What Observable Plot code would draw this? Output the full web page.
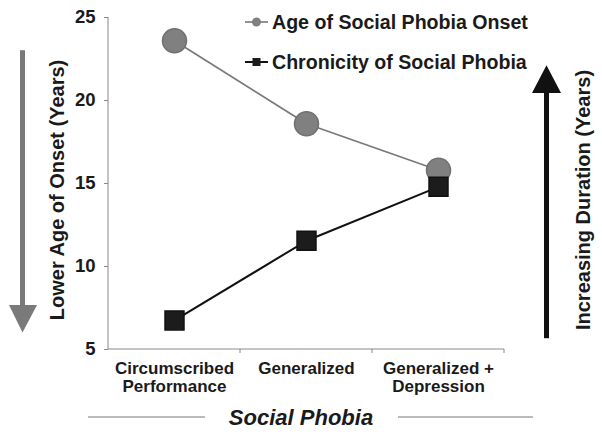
<!DOCTYPE html>
<html><head><meta charset="utf-8">
<script src="https://cdn.jsdelivr.net/npm/d3@7"></script>
<script src="https://cdn.jsdelivr.net/npm/@observablehq/plot@0.6"></script>
<style>body{margin:0;background:#fff} #chart svg{display:block}</style>
</head><body><div id="chart"></div>
<script>
const categories = ["Circumscribed Performance", "Generalized", "Generalized + Depression"];
const tickLabels = ["Circumscribed\nPerformance", "Generalized", "Generalized +\nDepression"];
const onsetAge = [23.6, 18.6, 15.8];
const chronicity = [6.75, 11.55, 14.8];
const yTicks = [5, 10, 15, 20, 25];
const seriesNames = ["Age of Social Phobia Onset", "Chronicity of Social Phobia"];
const leftLabel = "Lower Age of Onset (Years)";
const rightLabel = "Increasing Duration (Years)";
const xTitle = "Social Phobia";

const rows = categories.map((c, i) => ({category: c, onset: onsetAge[i], chron: chronicity[i]}));
const font = "'Liberation Sans', Arial, Helvetica, sans-serif";
const ink = "#1a1a1a";

const chart = Plot.plot({
  width: 602, height: 434,
  marginLeft: 108, marginRight: 98, marginTop: 17, marginBottom: 85,
  style: {fontFamily: font, background: "#fff", color: ink},
  x: {type: "band", domain: categories, padding: 0},
  y: {domain: [5, 25]},
  marks: [
    Plot.axisY({ticks: yTicks, tickSize: 4, tickPadding: 9, fontSize: 18.5, fontWeight: "bold", stroke: "#888", fill: ink, label: null}),
    Plot.axisX({tickSize: 0, tickPadding: 11, fontSize: 17, fontWeight: "bold", fill: ink, lineHeight: 1.1,
      tickFormat: d => tickLabels[categories.indexOf(d)], label: null}),
    Plot.line(rows, {x: "category", y: "onset", stroke: "#787878", strokeWidth: 1.6}),
    Plot.dot(rows, {x: "category", y: "onset", r: 12, fill: "#808080", stroke: "#707070"}),
    Plot.line(rows, {x: "category", y: "chron", stroke: "#111", strokeWidth: 2}),
    Plot.dot(rows, {x: "category", y: "chron", symbol: "square", r: 10.7, fill: "#1c1c1c", stroke: "#111"})
  ]
});
document.getElementById("chart").appendChild(chart);

// decorations
const svg = d3.select(chart);
const X = chart.scale("x"), Y = chart.scale("y");
const [x0, x1] = X.range;
const bw = (x1 - x0) / categories.length;
const yb = Y.apply(5), yt = Y.apply(25);
const g = svg.append("g").attr("fill", "none");
g.append("line").attr("x1", x0).attr("x2", x0).attr("y1", yt).attr("y2", yb).attr("stroke", "#888");
g.append("line").attr("x1", x0).attr("x2", x1).attr("y1", yb).attr("y2", yb).attr("stroke", "#888");
for (let k = 1; k <= categories.length; k++) {
  g.append("line").attr("x1", x0 + bw * k).attr("x2", x0 + bw * k).attr("y1", yb).attr("y2", yb + 4).attr("stroke", "#888");
}

// legend
const legend = svg.append("g").attr("text-anchor", "start");
const legY = [22, 62];
seriesNames.forEach((name, i) => {
  const gy = legY[i];
  legend.append("line").attr("x1", 245).attr("x2", 268).attr("y1", gy).attr("y2", gy)
    .attr("stroke", i === 0 ? "#787878" : "#111").attr("stroke-width", i === 0 ? 1.6 : 2);
  if (i === 0) legend.append("circle").attr("cx", 256.5).attr("cy", gy).attr("r", 4.5).attr("fill", "#808080");
  else legend.append("rect").attr("x", 252.5).attr("y", gy - 4).attr("width", 8).attr("height", 8).attr("fill", "#1c1c1c");
  legend.append("text").attr("x", 272).attr("y", gy).attr("dy", "0.35em").attr("text-anchor", "start")
    .attr("font-size", 19.6).attr("font-weight", "bold").attr("fill", ink).text(name);
});

// side labels
svg.append("text").attr("transform", "translate(57,190) rotate(-90)").attr("text-anchor", "middle").attr("dy", "0.35em")
  .attr("font-size", 20).attr("font-weight", "bold").attr("fill", ink).text(leftLabel);
svg.append("text").attr("transform", "translate(583,200) rotate(-90)").attr("text-anchor", "middle").attr("dy", "0.35em")
  .attr("font-size", 20).attr("font-weight", "bold").attr("fill", ink).text(rightLabel);

// arrows
const arrows = svg.append("g");
arrows.append("rect").attr("x", 20).attr("y", Y.apply(23)).attr("width", 5).attr("height", 305 - Y.apply(23) + 1).attr("fill", "#7a7a7a");
arrows.append("path").attr("d", `M9,305L37,305L22.5,${Y.apply(6)}Z`).attr("fill", "#7a7a7a");
arrows.append("rect").attr("x", 544).attr("y", 92).attr("width", 5).attr("height", Y.apply(5.65) - 92).attr("fill", "#111");
arrows.append("path").attr("d", `M532,93L561,93L546.5,${Y.apply(22.1)}Z`).attr("fill", "#111");

// x title
const tg = svg.append("g");
tg.append("text").attr("x", 301).attr("y", 425).attr("text-anchor", "middle").attr("font-size", 22)
  .attr("font-weight", "bold").attr("font-style", "italic").attr("fill", ink).text(xTitle);
tg.append("line").attr("x1", 88).attr("x2", 205).attr("y1", 417).attr("y2", 417).attr("stroke", "#777");
tg.append("line").attr("x1", 398).attr("x2", 533).attr("y1", 417).attr("y2", 417).attr("stroke", "#777");
</script>
</body></html>
